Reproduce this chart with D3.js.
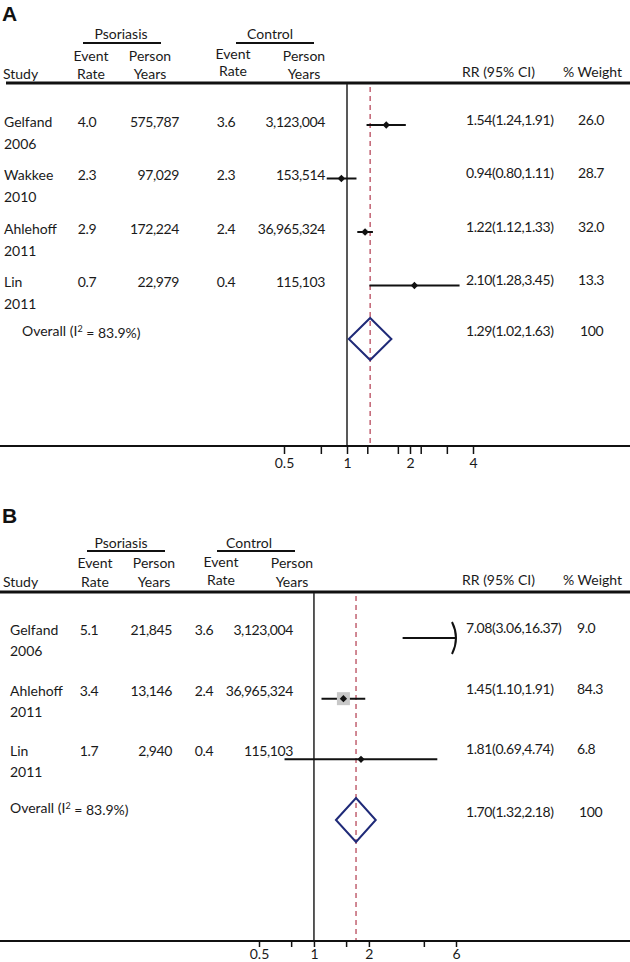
<!DOCTYPE html>
<html><head><meta charset="utf-8">
<script src="https://cdn.jsdelivr.net/npm/d3@7"></script>
<style>
body{margin:0;background:#fff;}
text{font-family:Lato,"Open Sans",sans-serif;font-size:14px;fill:#1a1a1a;}
.num{letter-spacing:-0.4px;}
</style></head>
<body><svg id="chart" width="630" height="962"></svg>
<script>
// ---------- DATA: Panel A ----------
const studiesA   = ["Gelfand","Wakkee","Ahlehoff","Lin"];
const yearsA     = ["2006","2010","2011","2011"];
const psoEventA  = ["4.0","2.3","2.9","0.7"];
const psoPYA     = ["575,787","97,029","172,224","22,979"];
const ctlEventA  = ["3.6","2.3","2.4","0.4"];
const ctlPYA     = ["3,123,004","153,514","36,965,324","115,103"];
const rrA        = [1.54,0.94,1.22,2.10];
const loA        = [1.24,0.80,1.12,1.28];
const hiA        = [1.91,1.11,1.33,3.45];
const weightA    = [26.0,28.7,32.0,13.3];
const overallA   = [1.29,1.02,1.63];   // RR, lower, upper
const overallWA  = "100";
const i2A        = "83.9%";
const ticksA     = [0.5,0.75,1,1.25,1.75,2,2.25,3,4];
const tickLabelsA= [0.5,1,2,4];
const domainA    = [0.5,4];

// ---------- DATA: Panel B ----------
const studiesB   = ["Gelfand","Ahlehoff","Lin"];
const yearsB     = ["2006","2011","2011"];
const psoEventB  = ["5.1","3.4","1.7"];
const psoPYB     = ["21,845","13,146","2,940"];
const ctlEventB  = ["3.6","2.4","0.4"];
const ctlPYB     = ["3,123,004","36,965,324","115,103"];
const rrB        = [7.08,1.45,1.81];
const loB        = [3.06,1.10,0.69];
const hiB        = [16.37,1.91,4.74];
const weightB    = [9.0,84.3,6.8];
const overallB   = [1.70,1.32,2.18];
const overallWB  = "100";
const i2B        = "83.9%";
const ticksB     = [0.5,0.75,1,1.5,2,4,6];
const tickLabelsB= [0.5,1,2,6];
const domainB    = [0.5,6];

const svg = d3.select("#chart");
const fmt2 = d3.format(".2f");
const fmtW = d3.format(".1f");

function panel(cfg, d){
  const g = svg.append("g");
  g.append("text").attr("x",cfg.labelX).attr("y",cfg.labelY)
    .style("font-family","'Liberation Sans',Arial,sans-serif").style("font-weight","bold").style("font-size","21px")
    .style("fill","#111").text(cfg.label);
  [["Psoriasis",cfg.psoHdr,cfg.psoLine],["Control",cfg.ctlHdr,cfg.ctlLine]].forEach(([t,cx,ln])=>{
    g.append("text").attr("x",cx).attr("y",cfg.grpY).attr("text-anchor","middle").text(t);
    g.append("line").attr("x1",ln[0]).attr("x2",ln[1]).attr("y1",cfg.grpLineY).attr("y2",cfg.grpLineY)
      .attr("stroke","#111").attr("stroke-width",2);
  });
  const sub = [["Event","Rate",cfg.cEvHdr,cfg.subY1,cfg.subY2],["Person","Years",cfg.cPyHdr,cfg.subY1,cfg.subY2],
               ["Event","Rate",cfg.kEvHdr,cfg.subY1b,cfg.subY2b],["Person","Years",cfg.kPyHdr,cfg.subY1,cfg.subY2]];
  sub.forEach(([a,b,cx,y1,y2])=>{
    g.append("text").attr("x",cx).attr("y",y1).attr("text-anchor","middle").text(a);
    g.append("text").attr("x",cx).attr("y",y2).attr("text-anchor","middle").text(b);
  });
  g.append("text").attr("x",cfg.studyHdrX).attr("y",cfg.subY2).text("Study");
  g.append("text").attr("x",cfg.rrX-4).attr("y",cfg.rightHdrY).text("RR (95% CI)");
  g.append("text").attr("x",cfg.rightWX).attr("y",cfg.rightHdrY).text("% Weight");
  g.append("line").attr("x1",cfg.hdrLineX0).attr("x2",630).attr("y1",cfg.hdrLineY).attr("y2",cfg.hdrLineY)
    .attr("stroke","#111").attr("stroke-width",3);

  const x = d3.scaleLog().domain(cfg.domain).range(cfg.xRange);
  const n = d.studies.length;
  const y = d3.scaleLinear().domain([0,n]).range(cfg.yRange);
  const sq = d3.scaleLinear().domain([0,84.3]).range([0,13]);

  g.append("line").attr("x1",x(1)).attr("x2",x(1)).attr("y1",cfg.hdrLineY+1).attr("y2",cfg.axisY)
    .attr("stroke","#222").attr("stroke-width",1.5);
  g.append("line").attr("x1",x(d.overall[0])).attr("x2",x(d.overall[0])).attr("y1",cfg.hdrLineY+4).attr("y2",cfg.axisY)
    .attr("stroke","#b84a5c").attr("stroke-width",1.3).attr("stroke-dasharray","5,4");

  g.append("line").attr("x1",0).attr("x2",630).attr("y1",cfg.axisY).attr("y2",cfg.axisY)
    .attr("stroke","#111").attr("stroke-width",2);
  const ax = g.append("g").attr("transform",`translate(0,${cfg.axisY})`)
    .call(d3.axisBottom(x).tickValues(d.ticks).tickSize(cfg.tickSize).tickFormat(v=>d.tickLabels.includes(v)?String(v):""));
  ax.select(".domain").remove();
  ax.selectAll(".tick line").attr("stroke","#111").attr("stroke-width",1.5);
  ax.selectAll(".tick text").style("font-family","Lato,sans-serif").style("font-size","14px").attr("fill","#1a1a1a").attr("y",cfg.tickLabelY);

  const [xmin,xmax] = cfg.domain;
  d.studies.forEach((s,i)=>{
    const yy = y(i), ty = yy + cfg.textOff;
    g.append("text").attr("x",cfg.studyX).attr("y",ty).attr("dy","0.35em").text(s);
    g.append("text").attr("x",cfg.studyX).attr("y",ty+cfg.line2).attr("dy","0.35em").text(d.years[i]);
    g.append("text").attr("class","num").attr("x",cfg.cEvX).attr("y",ty).attr("dy","0.35em").attr("text-anchor","middle").text(d.psoEvent[i]);
    g.append("text").attr("class","num").attr("x",cfg.cPyX).attr("y",ty).attr("dy","0.35em").attr("text-anchor","end").text(d.psoPY[i]);
    g.append("text").attr("class","num").attr("x",cfg.kEvX).attr("y",ty).attr("dy","0.35em").attr("text-anchor","middle").text(d.ctlEvent[i]);
    g.append("text").attr("class","num").attr("x",cfg.kPyX).attr("y",ty).attr("dy","0.35em").attr("text-anchor","end").text(d.ctlPY[i]);
    g.append("text").attr("class","num").attr("x",cfg.rrX).attr("y",ty-2).attr("dy","0.35em")
      .text(`${fmt2(d.rr[i])}(${fmt2(d.lo[i])},${fmt2(d.hi[i])})`);
    g.append("text").attr("class","num").attr("x",cfg.wX).attr("y",ty-2).attr("dy","0.35em").text(fmtW(d.weight[i]));

    const lo = Math.max(d.lo[i],xmin), hi = Math.min(d.hi[i],xmax);
    g.append("line").attr("x1",x(lo)).attr("x2",x(hi)).attr("y1",yy).attr("y2",yy)
      .attr("stroke","#111").attr("stroke-width",2);
    if (d.hi[i] > xmax){
      const ex = x(xmax);
      g.append("path").attr("d",`M${ex-4},${yy-16} Q${ex+4},${yy} ${ex-4},${yy+16}`)
        .attr("fill","none").attr("stroke","#111").attr("stroke-width",2);
    }
    if (d.rr[i] <= xmax){
      const s2 = sq(d.weight[i]);
      g.append("rect").attr("x",x(d.rr[i])-s2/2).attr("y",yy-s2/2).attr("width",s2).attr("height",s2)
        .attr("fill","#c8c8c8");
      g.append("path").attr("d",d3.symbol(d3.symbolDiamond2, 34)())
        .attr("transform",`translate(${x(d.rr[i])},${yy})`).attr("fill","#111");
    }
  });
  const oy = y(n), oty = oy + cfg.ovTextOff;
  const ot = g.append("text").attr("x",cfg.ovX).attr("y",oty).attr("dy","0.35em");
  ot.append("tspan").text("Overall (I");
  ot.append("tspan").attr("dy","-0.45em").style("font-size","9px").text("2");
  ot.append("tspan").attr("dy","0.45em").text(" = " + d.i2 + ")");
  g.append("text").attr("class","num").attr("x",cfg.rrX).attr("y",oty+cfg.ovRROff).attr("dy","0.35em")
    .text(`${fmt2(d.overall[0])}(${fmt2(d.overall[1])},${fmt2(d.overall[2])})`);
  g.append("text").attr("class","num").attr("x",cfg.wX+2).attr("y",oty+cfg.ovRROff).attr("dy","0.35em").text(d.overallW);
  const h = cfg.diamondH;
  g.append("path").attr("d",`M${x(d.overall[1])},${oy} L${x(d.overall[0])},${oy-h} L${x(d.overall[2])},${oy} L${x(d.overall[0])},${oy+h} Z`)
    .attr("fill","none").attr("stroke","#1f2a78").attr("stroke-width",2);
}

panel({
  label:"A", labelX:2, labelY:21,
  psoHdr:121, ctlHdr:270, grpY:39, grpLineY:43, psoLine:[83,161], ctlLine:[236,314],
  cEvHdr:91, cPyHdr:150, kEvHdr:233, kPyHdr:304, subY1:61, subY2:79, subY1b:59, subY2b:76,
  studyHdrX:3, rrX:466, rightWX:563, rightHdrY:77, hdrLineX0:6, hdrLineY:83,
  domain:domainA, xRange:[284,473], yRange:[125,339], axisY:446, tickLabelY:12, tickSize:8,
  studyX:4, cEvX:87, cPyX:179, kEvX:226, kPyX:325, wX:578,
  textOff:-3, line2:22, ovX:22, ovTextOff:-8, ovRROff:0, diamondH:21
},{studies:studiesA, years:yearsA, psoEvent:psoEventA, psoPY:psoPYA, ctlEvent:ctlEventA, ctlPY:ctlPYA,
   rr:rrA, lo:loA, hi:hiA, weight:weightA, overall:overallA, overallW:overallWA, i2:i2A,
   ticks:ticksA, tickLabels:tickLabelsA});

panel({
  label:"B", labelX:2, labelY:523,
  psoHdr:121, ctlHdr:249, grpY:548, grpLineY:551, psoLine:[87,165], ctlLine:[217,295],
  cEvHdr:95, cPyHdr:154, kEvHdr:221, kPyHdr:292, subY1:568, subY2:587, subY1b:567, subY2b:585,
  studyHdrX:3, rrX:466, rightWX:563, rightHdrY:585, hdrLineX0:0, hdrLineY:592,
  domain:domainB, xRange:[259,456], yRange:[638,820], axisY:941, tickLabelY:8, tickSize:6,
  studyX:10, cEvX:89, cPyX:172, kEvX:204, kPyX:293, wX:577,
  textOff:-8, line2:21, ovX:10, ovTextOff:-12, ovRROff:4, diamondH:22
},{studies:studiesB, years:yearsB, psoEvent:psoEventB, psoPY:psoPYB, ctlEvent:ctlEventB, ctlPY:ctlPYB,
   rr:rrB, lo:loB, hi:hiB, weight:weightB, overall:overallB, overallW:overallWB, i2:i2B,
   ticks:ticksB, tickLabels:tickLabelsB});
</script></body></html>
